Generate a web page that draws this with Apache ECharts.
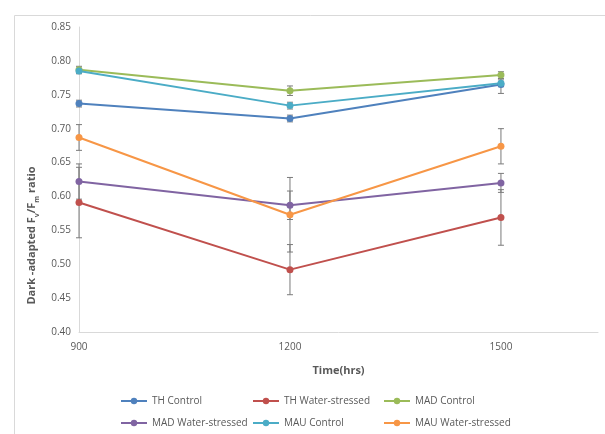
<!DOCTYPE html>
<html>
<head>
<meta charset="utf-8">
<script src="https://cdn.jsdelivr.net/npm/echarts@6/dist/echarts.min.js"></script>
<style>html,body{margin:0;padding:0;background:#fff}#c{width:605px;height:434px}</style>
</head>
<body>
<div id="c"></div>
<script>
const times = [900, 1200, 1500];
const yTicks = [0.40, 0.45, 0.50, 0.55, 0.60, 0.65, 0.70, 0.75, 0.80, 0.85];
const seriesNames = ['TH Control', 'TH Water-stressed', 'MAD Control', 'MAD Water-stressed', 'MAU Control', 'MAU Water-stressed'];
const thControl = [0.737, 0.715, 0.765];
const thWS = [0.591, 0.492, 0.569];
const madControl = [0.787, 0.756, 0.779];
const madWS = [0.622, 0.587, 0.620];
const mauControl = [0.785, 0.734, 0.767];
const mauWS = [0.687, 0.573, 0.674];
const thControlErr = [0.005, 0.005, 0.013];
const thWSErr = [0.052, 0.037, 0.041];
const madControlErr = [0.005, 0.007, 0.005];
const madWSErr = [0.026, 0.021, 0.014];
const mauControlErr = [0.004, 0.005, 0.005];
const mauWSErr = [0.019, 0.055, 0.026];

const colors = ['#4F81BD', '#C0504D', '#9BBB59', '#8064A2', '#4BACC6', '#F79646'];
const values = [thControl, thWS, madControl, madWS, mauControl, mauWS];
const errs = [thControlErr, thWSErr, madControlErr, madWSErr, mauControlErr, mauWSErr];

const font = 'Open Sans';
const txt = '#595959';

const errData = [];
values.forEach((v, s) => v.forEach((y, i) => errData.push([times[i], y - errs[s][i], y + errs[s][i]])));

const lineSeries = seriesNames.map((n, s) => ({
  name: n,
  type: 'line',
  data: times.map((t, i) => [t, values[s][i]]),
  color: colors[s],
  symbol: 'circle',
  symbolSize: 7,
  lineStyle: { width: 2 },
  z: 3
}));

const errSeries = {
  type: 'custom',
  z: 2,
  silent: true,
  data: errData,
  renderItem: function (params, api) {
    const x = api.value(0);
    const lo = api.coord([x, api.value(1)]);
    const hi = api.coord([x, api.value(2)]);
    const w = 3;
    const st = { stroke: '#7a7a7a', lineWidth: 1 };
    return {
      type: 'group',
      children: [
        { type: 'line', shape: { x1: lo[0], y1: lo[1], x2: hi[0], y2: hi[1] }, style: st },
        { type: 'line', shape: { x1: lo[0] - w, y1: lo[1], x2: lo[0] + w, y2: lo[1] }, style: st },
        { type: 'line', shape: { x1: hi[0] - w, y1: hi[1], x2: hi[0] + w, y2: hi[1] }, style: st }
      ]
    };
  }
};

const legendLeft = [120, 252, 383];
const legendTop = [396, 418];
const legends = seriesNames.map((n, s) => ({
  left: legendLeft[s % 3],
  top: legendTop[Math.floor(s / 3)],
  itemWidth: 26,
  itemHeight: 8,
  padding: 0,
  data: [n],
  textStyle: { fontFamily: font, fontSize: 10, color: txt },
  selectedMode: false
}));

const chart = echarts.init(document.getElementById('c'), null, { renderer: 'canvas' });
chart.setOption({
  animation: false,
  textStyle: { fontFamily: font },
  graphic: [{
    type: 'rect', left: 12, top: 13, silent: true, z: -10,
    shape: { width: 640, height: 460 },
    style: { fill: 'none', stroke: '#d9d9d9', lineWidth: 1 }
  }],
  grid: { left: 79, top: 27, right: 7, bottom: 102 },
  xAxis: {
    type: 'value',
    min: 900, max: 1638, interval: 300,
    name: 'Time(hrs)', nameLocation: 'middle', nameGap: 33,
    nameTextStyle: { fontFamily: font, fontSize: 11, fontWeight: 'bold', color: txt },
    axisLine: { lineStyle: { color: '#d9d9d9', width: 1 } },
    axisTick: { show: false },
    splitLine: { show: false },
    axisLabel: {
      color: txt, fontSize: 10, margin: 10, fontFamily: font,
      formatter: v => times.indexOf(v) >= 0 ? String(v) : ''
    }
  },
  yAxis: {
    type: 'value',
    min: yTicks[0], max: yTicks[yTicks.length - 1], interval: 0.05,
    name: '{a|Dark -adapted F}{s|v}{a|/F}{s|m}{a| ratio}',
    nameLocation: 'middle', nameGap: 30,
    nameTextStyle: {
      padding: [0, 112, 0, 0],
      rich: {
        a: { fontFamily: font, fontSize: 11, fontWeight: 'bold', color: txt, lineHeight: 16 },
        s: { fontFamily: font, fontSize: 7, fontWeight: 'bold', color: txt, lineHeight: 8, verticalAlign: 'bottom' }
      }
    },
    axisLine: { show: true, lineStyle: { color: '#d9d9d9', width: 1 } },
    axisTick: { show: false },
    splitLine: { show: false },
    axisLabel: { color: txt, fontSize: 10, margin: 8, fontFamily: font, formatter: v => v.toFixed(2) }
  },
  legend: legends,
  series: [errSeries].concat(lineSeries)
});
</script>
</body>
</html>
